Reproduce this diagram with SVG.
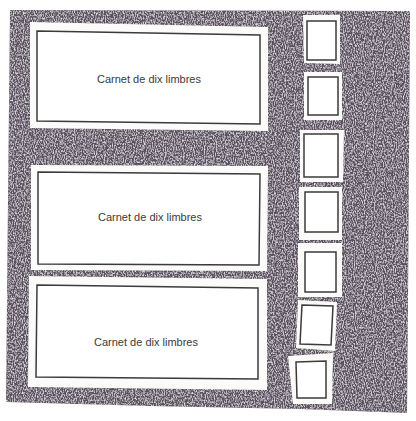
<svg xmlns="http://www.w3.org/2000/svg" width="416" height="421" viewBox="0 0 416 421">
<defs>
<filter id="grain" x="0" y="0" width="100%" height="100%">
<feTurbulence type="fractalNoise" baseFrequency="0.9 0.55" numOctaves="2" seed="3" result="n"/>
<feColorMatrix in="n" type="matrix" values="0 0 0 0 0.80  0 0 0 0 0.77  0 0 0 0 0.82  2.4 0 0 0 -1.0" result="spk"/>
<feComposite in="spk" in2="SourceGraphic" operator="in" result="spk2"/>
<feMerge><feMergeNode in="SourceGraphic"/><feMergeNode in="spk2"/></feMerge>
</filter>
</defs>
<style>
.frame{fill:#fbfbf9;stroke:none}
.inner{fill:#ffffff;stroke:#3c3a3e;stroke-width:1.5}
.lbl{font-family:"Liberation Sans",Arial,sans-serif;font-size:11px;fill:#3a3a3a;text-anchor:middle}
</style>
<rect width="416" height="421" fill="#ffffff"/>
<g id="background">
<polygon points="10,10 410,11 408,300 407,413 300,409 150,406 6,402 8,200" fill="#5a505b" filter="url(#grain)"/>
</g>
<g id="carnet1">
<polygon class="frame" points="30,22 268,27 268,131 30,128"/>
<polygon class="inner" points="37,31 260,35 260,124 37,121"/>
<text class="lbl" x="149" y="83">Carnet de dix limbres</text>
</g>
<g id="carnet2">
<polygon class="frame" points="31,165 268,166 267,271 31,270"/>
<polygon class="inner" points="38,172 260,174 259,265 38,264"/>
<text class="lbl" x="150" y="221">Carnet de dix limbres</text>
</g>
<g id="carnet3">
<polygon class="frame" points="29,276 267,279 267,390 28,387"/>
<polygon class="inner" points="37,285 258,288 258,379 36,377"/>
<text class="lbl" x="146" y="346">Carnet de dix limbres</text>
</g>
<g id="stamp1">
<polygon class="frame" points="303,15 340,15 340,64 304,63"/>
<polygon class="inner" points="307,21 336,21 336,60 307,60"/>
</g>
<g id="stamp2">
<polygon class="frame" points="304,72 342,72 342,120 304,120"/>
<polygon class="inner" points="308,77 338,77 338,115 308,115"/>
</g>
<g id="stamp3">
<polygon class="frame" points="300,130 344,130 343,182 300,182"/>
<polygon class="inner" points="304,134 338,134 338,177 304,177"/>
</g>
<g id="stamp4">
<polygon class="frame" points="299,187 342,187 342,240 299,240"/>
<polygon class="inner" points="305,192 338,192 338,232 305,232"/>
</g>
<g id="stamp5">
<polygon class="frame" points="298,243 342,243 342,297 298,297"/>
<polygon class="inner" points="305,252 336,252 336,292 305,292"/>
</g>
<g id="stamp6">
<polygon class="frame" points="298,300 337,302 335,351 296,348"/>
<polygon class="inner" points="302,305 333,306 331,345 300,344"/>
</g>
<g id="stamp7">
<polygon class="frame" points="288,356 333,353 332,404 293,404"/>
<polygon class="inner" points="296,362 326,361 326,398 297,398"/>
</g>
</svg>
